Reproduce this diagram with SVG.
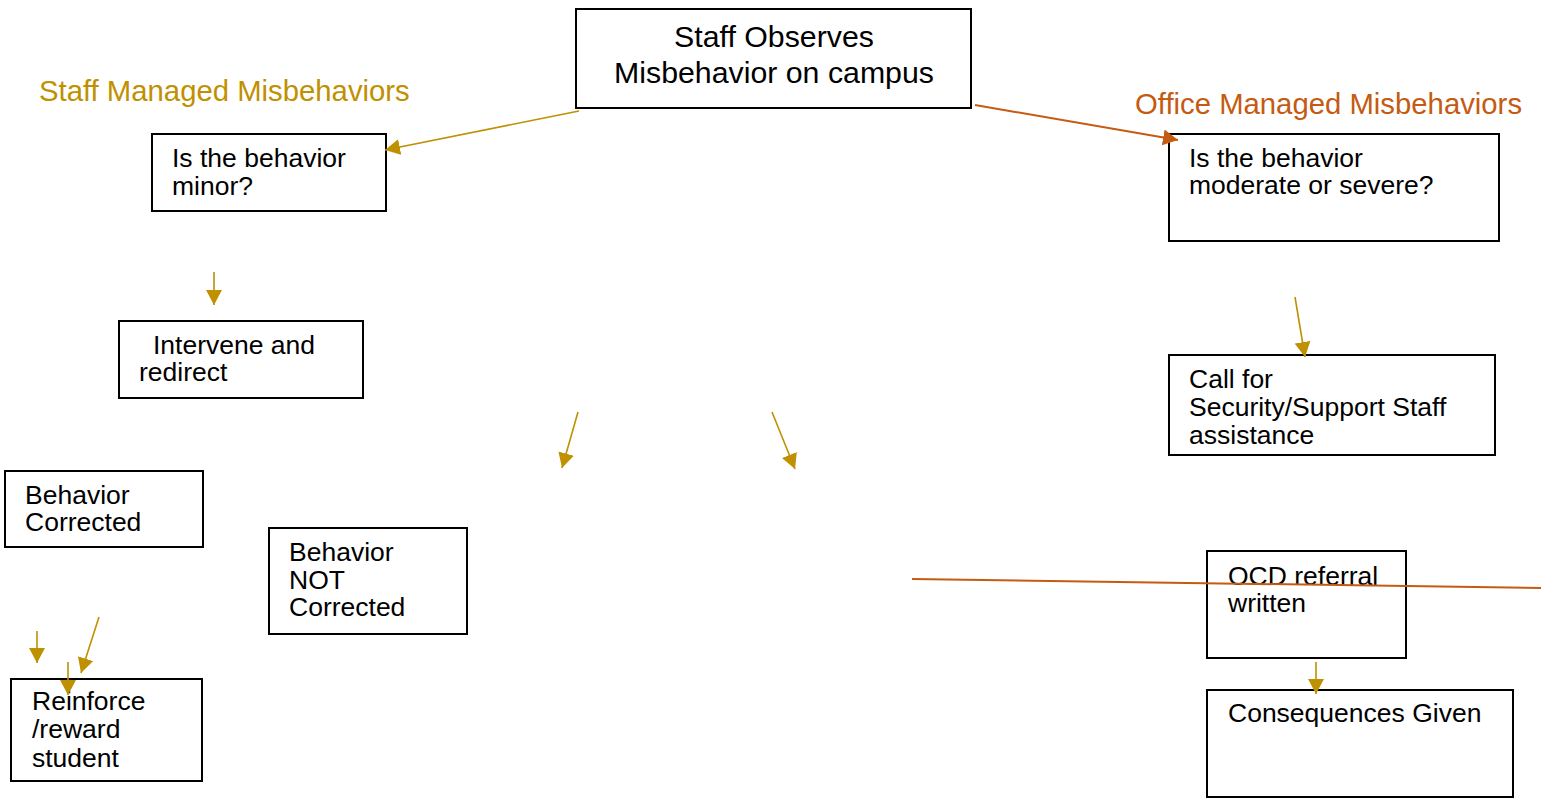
<svg xmlns="http://www.w3.org/2000/svg" width="1541" height="798" viewBox="0 0 1541 798">
<style>
.box{fill:#fff;stroke:#000;stroke-width:2}
.t{font-family:"Liberation Sans",Arial,sans-serif;font-size:26.5px;fill:#000}
.title{font-family:"Liberation Sans",Arial,sans-serif;font-size:30.3px;fill:#000;text-anchor:middle}
.hdr{font-family:"Liberation Sans",Arial,sans-serif;font-size:29.3px}
.gold{stroke:#BF9000;stroke-width:1.6;fill:none;marker-end:url(#ag)}
.orng{stroke:#C55A11;stroke-width:2;fill:none}
</style>
<defs>
<marker id="ag" markerUnits="userSpaceOnUse" markerWidth="15" markerHeight="16" refX="15" refY="8" orient="auto">
<path d="M0,0 L15,8 L0,16 z" fill="#BF9000"/>
</marker>
<marker id="ao" markerUnits="userSpaceOnUse" markerWidth="15" markerHeight="16" refX="15" refY="8" orient="auto">
<path d="M0,0 L15,8 L0,16 z" fill="#C55A11"/>
</marker>
</defs>
<rect width="1541" height="798" fill="#fff"/>
<text class="hdr" x="39" y="101" fill="#BF9000">Staff Managed Misbehaviors</text>
<text class="hdr" x="1135" y="114" fill="#C55A11">Office Managed Misbehaviors</text>
<g id="n-observe"><rect class="box" x="576" y="9" width="395" height="99"/><text class="title" x="774" y="47">Staff Observes</text><text class="title" x="774" y="83">Misbehavior on campus</text></g>
<g id="n-minor"><rect class="box" x="152" y="134" width="234" height="77"/><text class="t" x="172" y="167">Is the behavior</text><text class="t" x="172" y="195">minor?</text></g>
<g id="n-intervene"><rect class="box" x="119" y="321" width="244" height="77"/><text class="t" x="153" y="354">Intervene and</text><text class="t" x="139" y="381">redirect</text></g>
<g id="n-corrected"><rect class="box" x="5" y="471" width="198" height="76"/><text class="t" x="25" y="504">Behavior</text><text class="t" x="25" y="531">Corrected</text></g>
<g id="n-notcorrected"><rect class="box" x="269" y="528" width="198" height="106"/><text class="t" x="289" y="561">Behavior</text><text class="t" x="289" y="589">NOT</text><text class="t" x="289" y="616">Corrected</text></g>
<g id="n-reinforce"><rect class="box" x="11" y="679" width="191" height="102"/><text class="t" x="32" y="710">Reinforce</text><text class="t" x="32" y="738">/reward</text><text class="t" x="32" y="767">student</text></g>
<g id="n-moderate"><rect class="box" x="1169" y="134" width="330" height="107"/><text class="t" x="1189" y="167">Is the behavior</text><text class="t" x="1189" y="194">moderate or severe?</text></g>
<g id="n-call"><rect class="box" x="1169" y="355" width="326" height="100"/><text class="t" x="1189" y="388">Call for</text><text class="t" x="1189" y="416">Security/Support Staff</text><text class="t" x="1189" y="444">assistance</text></g>
<g id="n-ocd"><rect class="box" x="1207" y="551" width="199" height="107"/><text class="t" x="1228" y="585">OCD referral</text><text class="t" x="1228" y="612">written</text></g>
<g id="n-consequences"><rect class="box" x="1207" y="690" width="306" height="107"/><text class="t" x="1228" y="722">Consequences Given</text></g>
<g id="connectors">
<line class="gold" x1="579" y1="111" x2="385" y2="150"/>
<line class="orng" x1="975" y1="105" x2="1178" y2="140" marker-end="url(#ao)"/>
<line class="gold" x1="214" y1="272" x2="214" y2="305"/>
<line class="gold" x1="578" y1="412" x2="562" y2="468"/>
<line class="gold" x1="772" y1="412" x2="795" y2="469"/>
<line class="gold" x1="1295" y1="297" x2="1305" y2="357"/>
<line class="gold" x1="37" y1="631" x2="37" y2="663"/>
<line class="gold" x1="99" y1="617" x2="81" y2="673"/>
<line class="gold" x1="68" y1="662" x2="68" y2="695"/>
<line class="gold" x1="1316" y1="662" x2="1316" y2="694"/>
<line class="orng" x1="912" y1="579" x2="1541" y2="588"/>
</g>
</svg>
